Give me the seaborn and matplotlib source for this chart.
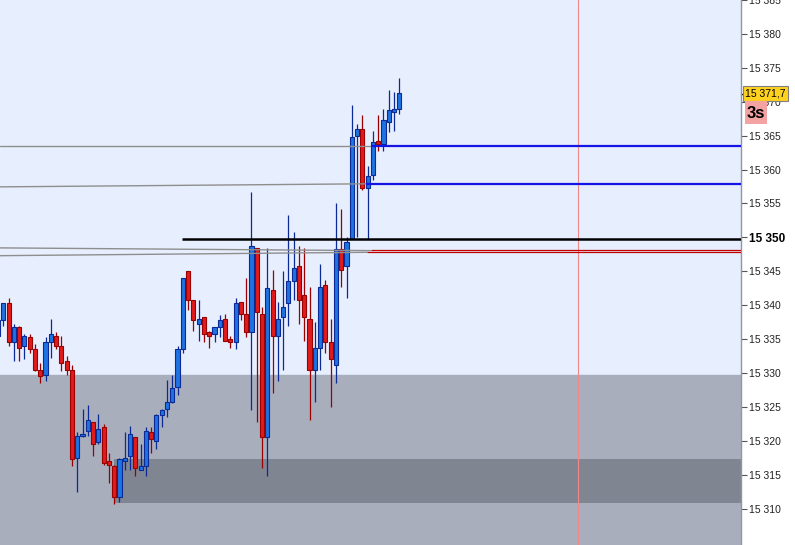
import numpy as np
import pandas as pd
import matplotlib
matplotlib.use("Agg")
import matplotlib.pyplot as plt
import matplotlib.transforms as mtransforms
from matplotlib.patches import Rectangle
import seaborn as sns

# 3s candles (index, open, high, low, close)
opens = [15335.5, 15337.75, 15340.25, 15334.5, 15336.75, 15334.0, 15335.25, 15333.5, 15330.5, 15329.75,
         15334.5, 15335.5, 15334.0, 15331.75, 15330.5, 15317.5, 15320.75, 15321.5, 15322.75, 15319.75,
         15322.0, 15317.0, 15316.25, 15311.75, 15317.0, 15317.75, 15320.5, 15315.75, 15316.25, 15321.25,
         15320.0, 15323.75, 15324.75, 15325.75, 15328.0, 15333.5, 15345.0, 15340.75, 15337.25, 15338.25,
         15336.0, 15335.75, 15336.75, 15338.0, 15335.0, 15334.5, 15340.5, 15338.75, 15336.0, 15348.5,
         15338.75, 15320.5, 15342.25, 15335.5, 15338.25, 15340.25, 15343.5, 15345.75, 15341.5, 15338.0,
         15330.5, 15333.75, 15343.0, 15334.5, 15331.25, 15348.25, 15345.75, 15349.75, 15365.0, 15366.0,
         15357.25, 15359.25, 15364.25, 15363.75, 15367.0, 15368.5, 15369.0]
highs = [15338.0, 15340.25, 15341.0, 15337.25, 15337.0, 15335.75, 15335.75, 15334.25, 15331.5, 15335.25,
         15338.0, 15336.0, 15335.5, 15332.5, 15331.25, 15321.25, 15324.75, 15325.25, 15322.75, 15324.0,
         15322.5, 15318.25, 15316.5, 15317.5, 15321.25, 15322.25, 15320.5, 15319.5, 15322.0, 15322.0,
         15324.0, 15324.75, 15329.0, 15329.75, 15334.0, 15344.0, 15345.0, 15340.75, 15340.75, 15338.25,
         15336.25, 15336.75, 15338.5, 15338.75, 15335.5, 15341.0, 15340.5, 15344.0, 15356.75, 15348.5,
         15339.75, 15348.5, 15345.25, 15340.5, 15345.0, 15353.25, 15350.75, 15348.75, 15348.5, 15342.75,
         15337.5, 15346.0, 15343.75, 15338.0, 15355.0, 15354.25, 15350.0, 15369.5, 15366.75, 15368.0,
         15360.5, 15365.75, 15368.0, 15369.0, 15371.75, 15371.5, 15373.5]
lows = [15334.0, 15337.0, 15334.0, 15331.75, 15331.75, 15332.0, 15333.0, 15330.25, 15328.5, 15328.75,
        15332.25, 15333.5, 15330.25, 15329.75, 15316.25, 15312.5, 15320.5, 15320.75, 15317.75, 15319.5,
        15316.5, 15313.75, 15310.75, 15311.0, 15315.75, 15315.75, 15314.75, 15315.75, 15314.75, 15318.25,
        15318.75, 15322.0, 15323.5, 15325.5, 15326.75, 15333.0, 15339.25, 15336.25, 15334.75, 15334.5,
        15333.75, 15334.5, 15335.25, 15334.75, 15333.75, 15333.5, 15337.75, 15335.25, 15324.5, 15322.75,
        15316.0, 15314.75, 15327.0, 15328.75, 15330.5, 15337.0, 15340.75, 15337.25, 15334.75, 15323.0,
        15325.75, 15330.5, 15333.0, 15325.0, 15328.5, 15342.75, 15341.0, 15349.75, 15350.0, 15357.0,
        15349.75, 15358.5, 15362.75, 15362.75, 15365.5, 15365.75, 15368.25]
closes = [15337.75, 15340.25, 15334.5, 15336.75, 15333.75, 15335.5, 15333.5, 15330.5, 15329.5, 15334.5,
          15335.75, 15334.0, 15331.5, 15330.5, 15317.25, 15320.75, 15321.0, 15323.0, 15319.5, 15321.75,
          15316.75, 15316.5, 15311.75, 15317.25, 15317.5, 15321.0, 15316.0, 15316.25, 15321.5, 15320.25,
          15323.75, 15324.5, 15325.75, 15327.75, 15333.5, 15344.0, 15340.75, 15337.75, 15338.0, 15335.75,
          15335.5, 15336.75, 15337.75, 15334.75, 15334.5, 15340.25, 15338.75, 15336.0, 15348.75, 15339.0,
          15320.5, 15342.5, 15335.5, 15338.0, 15339.75, 15343.5, 15345.5, 15340.75, 15338.25, 15330.5,
          15333.75, 15342.75, 15334.5, 15332.0, 15348.25, 15345.25, 15349.25, 15364.75, 15366.0, 15357.25,
          15359.0, 15364.0, 15363.75, 15367.25, 15368.75, 15369.0, 15371.25]

# drawn levels: (start index, end index, start price, end price)
trend_lines = [(0.375, 70.6, 15363.5, 15363.5),
               (0.375, 69.7, 15357.45, 15357.9),
               (0.375, 70.6, 15348.45, 15348.05),
               (0.375, 69.9, 15347.3, 15347.8)]
blue_levels = [(70.6, 15363.5), (69.7, 15357.9)]
black_level = (34.8, 15349.7)
red_levels = [(70.6, 15348.1), (69.9, 15347.8)]
marker_x = 109.8
zone_top = 15329.75
dark_zone = (22.0, 15310.8, 15317.3)
last_price = 15371.2
last_label = "15 371,7"
timeframe = "3s"
tick_values = list(range(15310, 15390, 5))

sns.set_style("white")
plt.rcParams["font.family"] = ["Liberation Sans", "DejaVu Sans"]

df = pd.DataFrame({"o": opens, "h": highs, "l": lows, "c": closes})
df["i"] = np.arange(len(df))
up = df["c"] >= df["o"]

fig = plt.figure(figsize=(7.95, 5.45), dpi=100)
ax = fig.add_axes([0, 0, 741 / 795, 1])
ax.set_facecolor("#E7EEFD")
xmax = 0.375 + 741 / 5.28
ax.set_xlim(0.375, xmax)
ax.set_ylim(15304.63, 15385.01)

# background zones
ax.axhspan(15300, zone_top, color="#A8AEBC", zorder=0)
ax.add_patch(Rectangle((dark_zone[0], dark_zone[1]), xmax - dark_zone[0], dark_zone[2] - dark_zone[1],
                       facecolor="#7F8591", edgecolor="none", zorder=0.5))

# candles
wick_col = np.where(up, "#0B2A96", "#9A0000")
body_col = np.where(up, "#1F72E2", "#E11B1B")
ax.vlines(df["i"], df["l"], df["h"], colors=wick_col, lw=0.9, zorder=2)
body_h = (df["c"] - df["o"]).abs().clip(lower=0.15)
ax.bar(df["i"], body_h, bottom=df[["o", "c"]].min(axis=1), width=0.78,
       color=body_col, edgecolor=wick_col, linewidth=0.8, zorder=3)

# lines
for x0, x1, y0, y1 in trend_lines:
    sns.lineplot(x=[x0, x1], y=[y0, y1], ax=ax, color="#8E8E8E", lw=1.0, zorder=4)
for x0, y in blue_levels:
    ax.hlines(y, x0, xmax, color="#1414E6", lw=1.6, zorder=5)
ax.hlines(black_level[1], black_level[0], xmax, color="black", lw=1.8, zorder=5)
for x0, y in red_levels:
    ax.hlines(y, x0, xmax, color="#C00000", lw=0.9, zorder=5)
ax.axvline(marker_x, color="#F08A8A", lw=0.8, zorder=1)

# right price axis
ax.set_xticks([])
ax.yaxis.tick_right()
ax.set_yticks(tick_values)
ax.set_yticklabels([f"{v:,}".replace(",", " ") for v in tick_values])
ax.tick_params(axis="y", direction="out", length=4, width=0.8, color="#555555",
               pad=2, labelsize=7.5, labelcolor="#222222")
for lab, v in zip(ax.get_yticklabels(), tick_values):
    if v == 15350:
        lab.set_fontweight("bold")
        lab.set_fontsize(8.5)
        lab.set_color("black")
for s in ["top", "left", "bottom"]:
    ax.spines[s].set_visible(False)
ax.spines["right"].set_color("#8A98AC")
ax.spines["right"].set_linewidth(1.0)
ax.set_xlabel("")
ax.set_ylabel("")

trans = mtransforms.blended_transform_factory(ax.transAxes, ax.transData)
ax.plot([1.0, 1.006], [last_price, last_price], transform=trans, color="black", lw=1, clip_on=False)
ax.text(1.006, last_price, last_label, transform=trans, ha="left", va="center", fontsize=7.5,
        color="black", bbox=dict(boxstyle="square,pad=0.22", fc="#FFD21F", ec="#7F7F7F", lw=0.8))

fig.patches.append(Rectangle((745 / 795, 1 - 124 / 545), 22 / 795, 23 / 545, transform=fig.transFigure,
                             facecolor="#F4A3A3", edgecolor="none", zorder=10))
fig.text(756 / 795, 1 - 113 / 545, timeframe, ha="center", va="center", fontsize=12,
         fontweight="bold", color="black", zorder=11)

fig.savefig("out.png", dpi=100, facecolor="white")
